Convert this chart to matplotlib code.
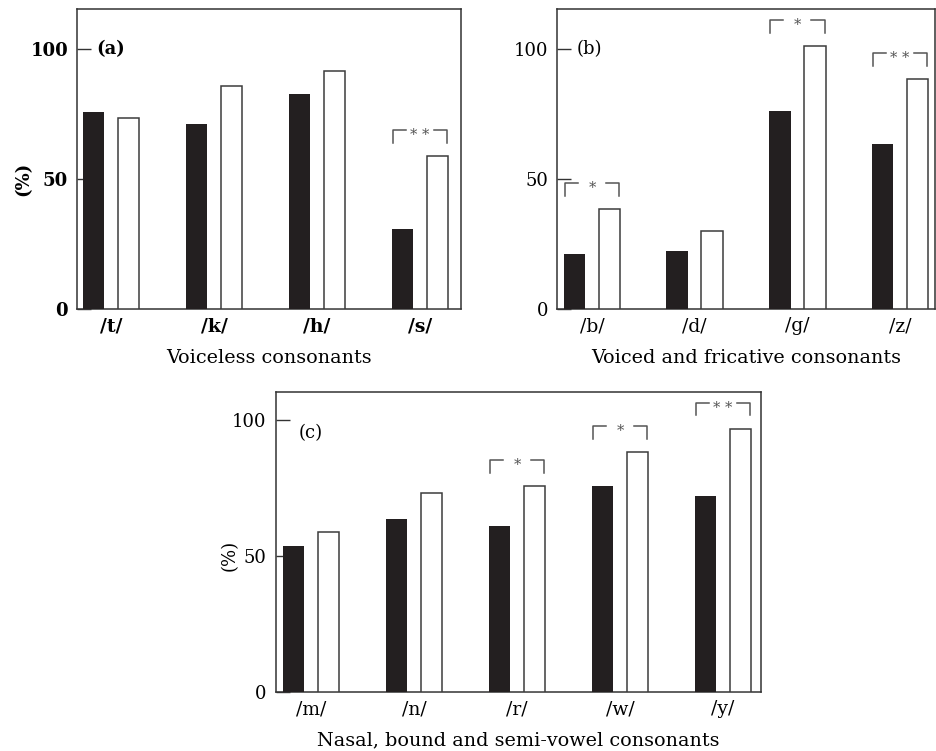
import matplotlib
matplotlib.use('Agg')
import matplotlib.pyplot as plt
import numpy as np

plt.rcParams['font.family'] = ['DejaVu Serif']

# (a) voiceless consonants
voiceless_labels = ['/t/', '/k/', '/h/', '/s/']
voiceless_black = [75.8, 71.3, 82.6, 30.6]
voiceless_white = [73.6, 85.8, 91.4, 58.7]
voiceless_sig = ['', '', '', '**']

# (b) voiced and fricative consonants
voiced_labels = ['/b/', '/d/', '/g/', '/z/']
voiced_black = [21.0, 22.3, 76.2, 63.6]
voiced_white = [38.3, 30.0, 101.2, 88.3]
voiced_sig = ['*', '', '*', '**']

# (c) nasal, bound and semi-vowel consonants
nasal_labels = ['/m/', '/n/', '/r/', '/w/', '/y/']
nasal_black = [53.7, 63.5, 61.0, 75.6, 72.1]
nasal_white = [58.8, 72.9, 75.6, 88.2, 96.7]
nasal_sig = ['', '', '*', '*', '**']

DARK = '#231f20'
EDGE = '#3c3c3c'
GREY = '#555555'


def draw_panel(ax, labels, black, white, sig, ymax, xlim, bold, tag, tag_x, tag_y,
               xlabel, ylabel=None, ylabel_x=-0.12):
    weight = 'bold' if bold else 'normal'
    x = np.arange(len(labels))
    width = 0.21
    off = 0.17
    ax.bar(x - off, black, width, color=DARK, linewidth=0, zorder=3)
    ax.bar(x + off, white, width, color='white', edgecolor=EDGE, linewidth=1.1, zorder=3)

    # crochets de significativite
    up = 0.087 * ymax
    leg = 0.043 * ymax
    for i, s in enumerate(sig):
        if not s:
            continue
        top = max(black[i], white[i]) + up
        x0, x1 = i - 0.265, i + 0.265
        gap = 0.135
        ax.plot([x0, x0, i - gap], [top - leg, top, top], color=GREY, lw=1.1, zorder=4)
        ax.plot([i + gap, x1, x1], [top, top, top - leg], color=GREY, lw=1.1, zorder=4)
        ax.annotate(' '.join(s), (i, top), xytext=(0, -6.5), textcoords='offset points',
                    ha='center', va='baseline', fontsize=10.5, color=GREY)

    ax.set_xlim(*xlim)
    ax.set_ylim(0, ymax)
    ax.set_yticks([0, 50, 100])
    ax.set_xticks(x)
    ax.set_xticklabels(labels, fontsize=13.5, fontweight=weight)
    for t in ax.get_yticklabels():
        t.set_fontsize(13)
        t.set_fontweight(weight)
    ax.tick_params(axis='y', direction='in', length=10, width=1.0, color='#333333', pad=6.5)
    ax.tick_params(axis='x', length=0, pad=6)
    for sp in ax.spines.values():
        sp.set_color('#333333')
        sp.set_linewidth(1.1)

    ax.set_xlabel(xlabel, fontsize=13.8, labelpad=9.5)
    if ylabel:
        ax.set_ylabel(ylabel, fontsize=13, fontweight=weight)
        ax.yaxis.set_label_coords(ylabel_x, 50 / ymax)

    ax.text(tag_x, tag_y, tag, ha='left', va='center', fontsize=13, fontweight=weight)


fig = plt.figure(figsize=(9.36, 7.51), dpi=100)
ax1 = fig.add_axes([0.0823, 0.5885, 0.4103, 0.3995])
ax2 = fig.add_axes([0.5951, 0.5885, 0.4038, 0.3995])
ax3 = fig.add_axes([0.2946, 0.0790, 0.5185, 0.3995])

draw_panel(ax1, voiceless_labels, voiceless_black, voiceless_white, voiceless_sig,
           115.4, (-0.33, 3.40), True, '(a)', -0.14, 100, 'Voiceless consonants', '(%)', -0.117)
draw_panel(ax2, voiced_labels, voiced_black, voiced_white, voiced_sig,
           115.4, (-0.34, 3.34), False, '(b)', -0.15, 100, 'Voiced and fricative consonants')
draw_panel(ax3, nasal_labels, nasal_black, nasal_white, nasal_sig,
           110.3, (-0.343, 4.37), False, '(c)', -0.12, 95, 'Nasal, bound and semi-vowel consonants',
           '(%)', -0.077)

fig.savefig('out.png', dpi=100)
